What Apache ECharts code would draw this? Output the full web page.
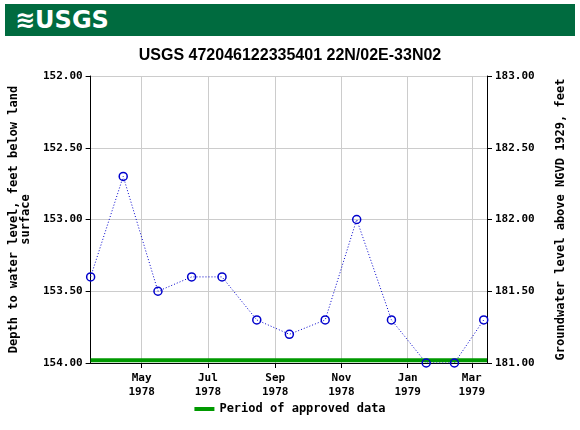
<!DOCTYPE html><html><head><meta charset="utf-8"><script src="https://cdn.jsdelivr.net/npm/echarts@6/dist/echarts.min.js"></script>
<style>body{margin:0}#h{position:absolute;left:5px;top:4px;width:570px;height:32px;background:#006b3f;color:#fff;font:bold 24px "DejaVu Sans";line-height:32px;padding-left:10px;box-sizing:border-box}#c{width:580px;height:430px}</style></head><body>
<div id="c"></div><div id="h">≋USGS</div>
<script>
const dates=['1978-03-15','1978-04-14','1978-05-16','1978-06-16','1978-07-14','1978-08-15','1978-09-14','1978-10-17','1978-11-15','1978-12-17','1979-01-18','1979-02-13','1979-03-12'];
const depths=[153.4,152.7,153.5,153.4,153.4,153.7,153.8,153.7,153.0,153.7,154.0,154.0,153.7];
const tickDates=['1978-05-01','1978-07-01','1978-09-01','1978-11-01','1979-01-01','1979-03-01'];
const tickLabels=['May\n1978','Jul\n1978','Sep\n1978','Nov\n1978','Jan\n1979','Mar\n1979'];
const approved=[['1978-03-15',153.98],['1979-03-15',153.98]];
const ts=d=>new Date(d+'T00:00:00Z').getTime();
const tv=tickDates.map(ts);
const f='DejaVu Sans Mono';
const ch=echarts.init(document.getElementById('c'));
ch.setOption({animation:false,
title:{text:'USGS 472046122335401 22N/02E-33N02',left:'center',top:43,textStyle:{fontFamily:'Liberation Sans',fontSize:16,fontWeight:'bold',color:'#000'}},
grid:{left:88,right:93,top:76,bottom:67},
xAxis:{type:'value',min:ts('1978-03-15'),max:ts('1979-03-15'),
 axisLine:{lineStyle:{color:'#000'}},
 axisTick:{customValues:tv,lineStyle:{color:'#000'}},
 splitLine:{show:true,lineStyle:{color:'#ccc'}},
 axisLabel:{customValues:tv,fontFamily:f,fontSize:11,fontWeight:'bold',color:'#000',lineHeight:14,formatter:v=>{const i=tv.indexOf(v);return i>=0?tickLabels[i]:'';}}},
yAxis:[{type:'value',inverse:true,min:152,max:154,interval:0.5,name:'Depth to water level, feet below land\nsurface',nameLocation:'middle',nameGap:56,
 nameTextStyle:{fontFamily:f,fontSize:12,fontWeight:'bold',color:'#000'},axisLine:{show:true,lineStyle:{color:'#000'}},axisTick:{show:true},
 axisLabel:{fontFamily:f,fontSize:11,fontWeight:'bold',color:'#000',formatter:v=>v.toFixed(2)},splitLine:{lineStyle:{color:'#ccc'}}},
 {type:'value',min:181,max:183,interval:0.5,name:'Groundwater level above NGVD 1929, feet',nameLocation:'middle',nameGap:68,nameRotate:90,
 nameTextStyle:{fontFamily:f,fontSize:12,fontWeight:'bold',color:'#000'},axisLine:{show:true,lineStyle:{color:'#000'}},axisTick:{show:true},
 axisLabel:{fontFamily:f,fontSize:11,fontWeight:'bold',color:'#000',formatter:v=>v.toFixed(2)},splitLine:{show:false}}],
legend:{bottom:10,data:[{name:'Period of approved data',icon:'rect'}],itemWidth:20,itemHeight:4,textStyle:{fontFamily:f,fontSize:12,fontWeight:'bold',color:'#000'}},
series:[{type:'line',name:'Period of approved data',data:approved.map(a=>[ts(a[0]),a[1]]),symbol:'none',lineStyle:{color:'#009900',width:4},itemStyle:{color:'#009900'},z:1},
{type:'line',name:'depth',data:dates.map((d,i)=>[ts(d),depths[i]]),symbol:'circle',symbolSize:8,
 itemStyle:{color:'rgba(255,255,255,0)',borderColor:'#0000cc',borderWidth:1.5},lineStyle:{color:'#0000cc',width:1,type:[1,2]},z:3}]});
</script></body></html>
